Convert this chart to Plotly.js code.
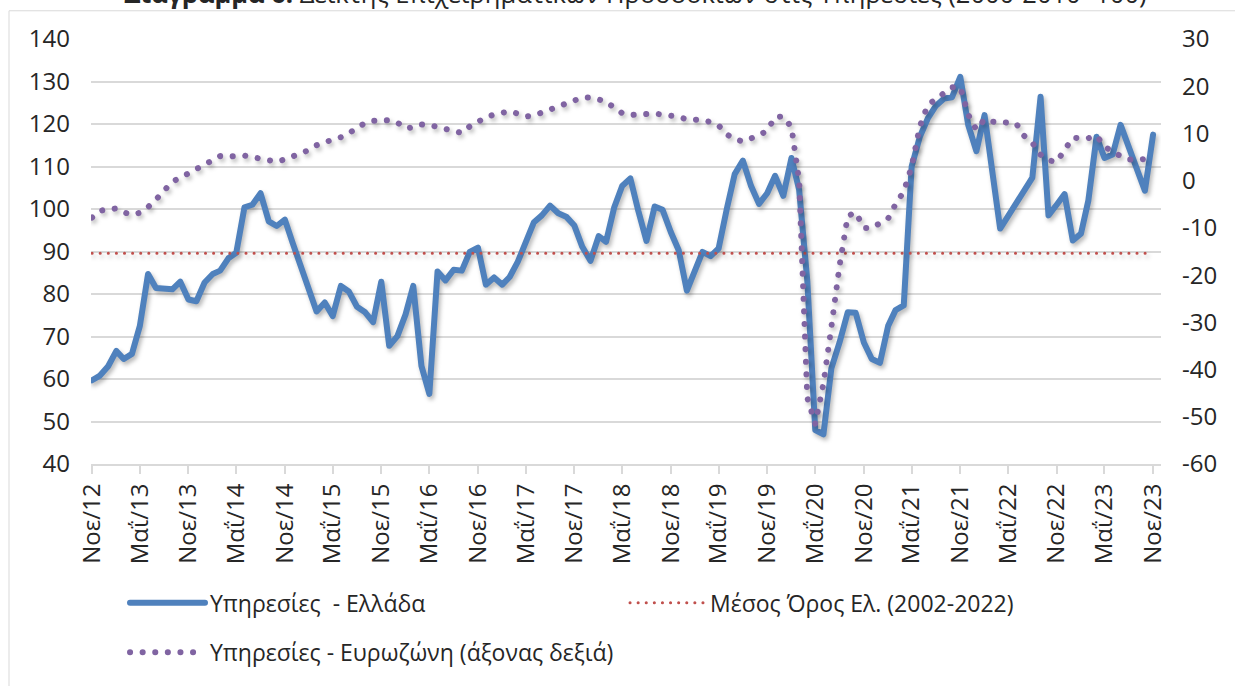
<!DOCTYPE html>
<html>
<head>
<meta charset="utf-8">
<script src="https://cdn.plot.ly/plotly-3.0.1.min.js"></script>
<style>
html,body{margin:0;padding:0;background:#ffffff;}
#chart{width:1235px;height:686px;}
.js-line{stroke-linecap:round;stroke-linejoin:round;}
.scatterlayer .trace{filter:drop-shadow(2px 3px 2px rgba(0,0,0,0.28));}
</style>
</head>
<body>
<div id="chart"></div>
<script>
// ---- data (monthly, Nov 2012 - Nov 2023) ----
const startYear = 2012;
const startMonth = 11; // November

const tickLabels = ["Νοε/12","Μαΐ/13","Νοε/13","Μαΐ/14","Νοε/14","Μαΐ/15","Νοε/15","Μαΐ/16",
  "Νοε/16","Μαΐ/17","Νοε/17","Μαΐ/18","Νοε/18","Μαΐ/19","Νοε/19","Μαΐ/20","Νοε/20","Μαΐ/21",
  "Νοε/21","Μαΐ/22","Νοε/22","Μαΐ/23","Νοε/23"];

// Υπηρεσίες - Ελλάδα (left axis)
const greece = [
  59.7, 60.8, 63.0, 66.6, 64.7, 65.9, 72.5, 84.7, 81.4, 81.2,
  81.1, 82.9, 78.7, 78.3, 82.7, 84.7, 85.5, 88.4, 89.7, 100.4,
  101.0, 103.7, 97.1, 96.0, 97.5, 91.9, 86.4, 81.8, 75.9, 78.0,
  74.8, 81.9, 80.6, 77.0, 75.7, 73.4, 82.9, 67.8, 70.1, 75.2,
  81.9, 63.1, 56.5, 85.3, 83.2, 85.7, 85.5, 89.9, 90.9, 82.2,
  83.9, 82.2, 84.0, 87.6, 91.9, 96.9, 98.5, 100.8, 99.0, 98.2,
  96.1, 91.1, 87.8, 93.6, 92.3, 100.4, 105.4, 107.2, 99.6, 92.5,
  100.6, 99.8, 94.6, 90.3, 80.8, 86.0, 89.9, 88.9, 90.7, 100.0,
  108.2, 111.4, 105.4, 101.2, 103.7, 107.8, 103.1, 112.0, 104.5, 83.0,
  48.0, 47.0, 62.5, 68.6, 75.7, 75.6, 68.6, 64.7, 63.8, 72.5,
  76.2, 77.3, 110.0, 117.0, 121.3, 124.3, 126.0, 126.3, 131.1, 119.8,
  113.6, 122.1, 109.0, 95.4, 98.3, 101.2, 104.2, 107.4, 126.4, 98.5,
  101.0, 103.5, 92.6, 94.2, 102.0, 117.0, 112.0, 112.8, 119.8, 114.6,
  109.5, 104.3, 117.5
];

// Υπηρεσίες - Ευρωζώνη (right axis)
const eurozone = [
  -7.8, -6.4, -6.0, -5.9, -6.7, -7.2, -6.8, -5.6, -4.0, -2.2,
  -0.2, 0.6, 1.5, 2.4, 3.3, 4.3, 5.2, 5.1, 5.2, 5.3,
  5.0, 4.6, 4.1, 4.0, 4.5, 5.2, 5.8, 6.5, 7.5, 8.2,
  8.7, 9.2, 10.0, 11.2, 12.2, 12.7, 12.9, 12.8, 12.3, 11.1,
  11.3, 11.9, 11.8, 11.4, 10.9, 10.4, 10.1, 11.5, 12.5, 13.4,
  14.0, 14.4, 14.7, 14.2, 13.6, 13.8, 14.4, 15.1, 15.8, 16.3,
  17.0, 17.6, 17.6, 17.3, 16.8, 15.4, 14.3, 13.9, 14.0, 14.2,
  14.2, 14.0, 13.9, 13.5, 13.0, 12.9, 12.85, 12.4, 11.7, 9.8,
  8.8, 8.3, 8.9, 9.6, 10.6, 13.5, 13.6, 11.3, 0.0, -46.0,
  -51.5, -43.0, -31.0, -18.0, -7.5, -6.7, -10.0, -10.0, -9.0, -8.0,
  -5.0, -2.3, 3.0, 11.5, 16.0, 17.3, 18.5, 19.8, 19.8, 14.0,
  10.8, 13.0, 12.5, 12.5, 12.3, 12.1, 9.5, 8.0, 5.5, 4.3,
  4.0, 6.5, 9.1, 9.0, 9.0, 9.5, 7.3, 6.0, 5.3, 4.5,
  4.4, 4.6, 3.8
];

// Μέσος Όρος Ελ. (2002-2022)
const greeceMean = 89.6;

const rightTickVals = [30, 20, 10, 0, -10, -20, -30, -40, -50, -60];
const rightTickText = ["30", "20", "10", "0", "-10", "-20", "-30", "-40", "-50", "-60"];

const seriesNames = ["Υπηρεσίες\u00a0 - Ελλάδα", "Μέσος Όρος Ελ. (2002-2022)", "Υπηρεσίες - Ευρωζώνη (άξονας δεξιά)"];
const titleText = "<b>Διάγραμμα 6:</b> Δείκτης Επιχειρηματικών Προσδοκιών στις Υπηρεσίες (2000-2010=100)";

// ---- month dates ----
function monthDate(k) {
  const m0 = (startMonth - 1) + k;
  const y = startYear + Math.floor(m0 / 12);
  const m = (m0 % 12) + 1;
  return y + "-" + (m < 10 ? "0" + m : m) + "-01";
}
const dates = greece.map((_, k) => monthDate(k));
const tickVals = tickLabels.map((_, j) => monthDate(j * 6));

const FONT = "Open Sans, Noto Sans, DejaVu Sans, sans-serif";
const TXT = "#262626";

const traces = [
  {
    x: dates, y: greece, name: seriesNames[0], type: "scatter", mode: "lines",
    line: {color: "#4F81BD", width: 6}, yaxis: "y", legend: "legend"
  },
  {
    x: [dates[0], dates[dates.length - 1]], y: [greeceMean, greeceMean], name: seriesNames[1],
    type: "scatter", mode: "lines",
    line: {color: "#C0504D", width: 3, dash: "0.1px,8px"}, yaxis: "y", legend: "legend"
  },
  {
    x: dates, y: eurozone, name: seriesNames[2], type: "scatter", mode: "lines",
    line: {color: "#8064A2", width: 6, dash: "0.1px,12.5px"}, yaxis: "y2", legend: "legend2"
  }
];

// pixel helpers for paper positions (plot area: x 91..1161, y 39..468)
const L = 91, R = 74, T = 39, B = 218, W = 1235, H = 686;
const pw = W - L - R, ph = H - T - B;
const px2x = p => (p - L) / pw;
const py2y = p => (H - B - p) / ph;

const layout = {
  width: W, height: H,
  margin: {l: L, r: R, t: T, b: B, pad: 0},
  paper_bgcolor: "#ffffff", plot_bgcolor: "#ffffff",
  font: {family: FONT, size: 22, color: TXT},
  showlegend: true,
  xaxis: {
    type: "date",
    range: ["2012-10-28", "2023-12-01"],
    tickmode: "array", tickvals: tickVals, ticktext: tickLabels,
    tickangle: -90,
    ticks: "outside", ticklen: 8, tickwidth: 2, tickcolor: "#d9d9d9",
    showline: true, linecolor: "#d9d9d9", linewidth: 2,
    showgrid: false, zeroline: false,
    tickfont: {family: FONT, size: 24, color: TXT}
  },
  yaxis: {
    range: [40, 140], dtick: 10, tick0: 40,
    showgrid: true, gridcolor: "#d9d9d9", gridwidth: 1.5,
    zeroline: false, showline: false, ticks: "",
    ticklabelstandoff: 20,
    tickfont: {family: FONT, size: 24, color: TXT}
  },
  yaxis2: {
    overlaying: "y", side: "right",
    range: [-60, 30],
    tickmode: "array", tickvals: rightTickVals, ticktext: rightTickText,
    showgrid: false, zeroline: false, showline: false, ticks: "",
    ticklabelstandoff: 20,
    tickfont: {family: FONT, size: 24, color: TXT}
  },
  legend: {
    orientation: "h", x: px2x(125), xanchor: "left", y: py2y(608), yanchor: "middle",
    itemwidth: 75, entrywidth: 410, traceorder: "normal",
    font: {family: FONT, size: 23, color: TXT}, bgcolor: "rgba(0,0,0,0)"
  },
  legend2: {
    orientation: "h", x: px2x(125), xanchor: "left", y: py2y(658), yanchor: "middle",
    itemwidth: 75,
    font: {family: FONT, size: 23, color: TXT}, bgcolor: "rgba(0,0,0,0)"
  },
  annotations: [{
    text: titleText, xref: "paper", yref: "paper",
    x: px2x(635), y: py2y(12), xanchor: "center", yanchor: "bottom",
    showarrow: false, font: {family: FONT, size: 25.5, color: TXT}
  }],
  shapes: [
    {type: "line", xref: "paper", yref: "paper", x0: px2x(9), x1: px2x(9), y0: py2y(10.5), y1: py2y(700),
     line: {color: "#d9d9d9", width: 1}},
    {type: "line", xref: "paper", yref: "paper", x0: px2x(9), x1: px2x(1250), y0: py2y(10.5), y1: py2y(10.5),
     line: {color: "#d9d9d9", width: 1}}
  ]
};

Plotly.newPlot("chart", traces, layout, {displayModeBar: false, responsive: false});
</script>
</body>
</html>
